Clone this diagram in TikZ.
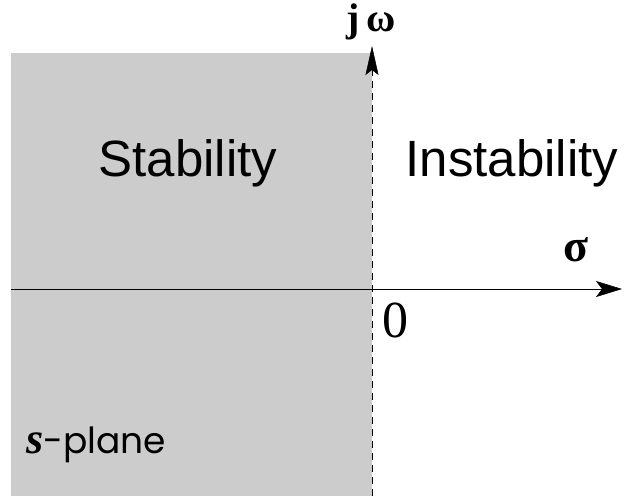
\documentclass[tikz,border=0pt]{standalone}
\usepackage{fontspec}
\setmainfont{Liberation Serif}
\setsansfont{Liberation Sans}
\newfontfamily\geofont{Poppins}
\usetikzlibrary{arrows.meta}
\definecolor{regiongray}{HTML}{CCCCCC}
\tikzset{
  axisline/.style={line width=1pt},
  vtip/.style={-{Stealth[length=29pt,width=13pt,inset=5pt,line width=0.5pt]}},
  htip/.style={-{Stealth[length=26pt,width=16pt,inset=6pt,line width=0.5pt]}},
  region/.style={font=\sffamily\fontsize{51}{51}\selectfont, inner sep=0pt},
  lbl/.style={inner sep=0pt}
}
\begin{document}
\begin{tikzpicture}[x=1pt,y=-1pt]
\useasboundingbox (0,0) rectangle (631,496);
\fill[regiongray] (11,53) rectangle (372,496);
\coordinate (vbot) at (372,496);
\coordinate (vmid) at (372,74);
\coordinate (vtop) at (372,46);
\coordinate (hleft) at (11,289);
\coordinate (hright) at (622,289);
\draw[axisline, dash pattern=on 7pt off 5pt] (vbot) -- (vmid);
\draw[axisline, vtip] (vmid) -- (vtop);
\draw[axisline, htip] (hleft) -- (hright);
\node[region] (stab) at (188,163) {Stability};
\node[region] (instab) at (512,163) {Instability};
\node[lbl, anchor=base, font=\bfseries\fontsize{40}{40}\selectfont] (jw) at (371,31) {j\,ω};
\node[lbl, font=\bfseries\fontsize{46}{46}\selectfont] (sigma) at (576,250) {σ};
\node[lbl, font=\fontsize{52}{52}\selectfont] (zero) at (395,320) {0};
\node[lbl, anchor=base west] (splane) at (26,453) {\fontsize{44}{44}\selectfont\textbf{\textit{s}}\geofont\fontsize{36}{36}\selectfont -plane};
\end{tikzpicture}
\end{document}
